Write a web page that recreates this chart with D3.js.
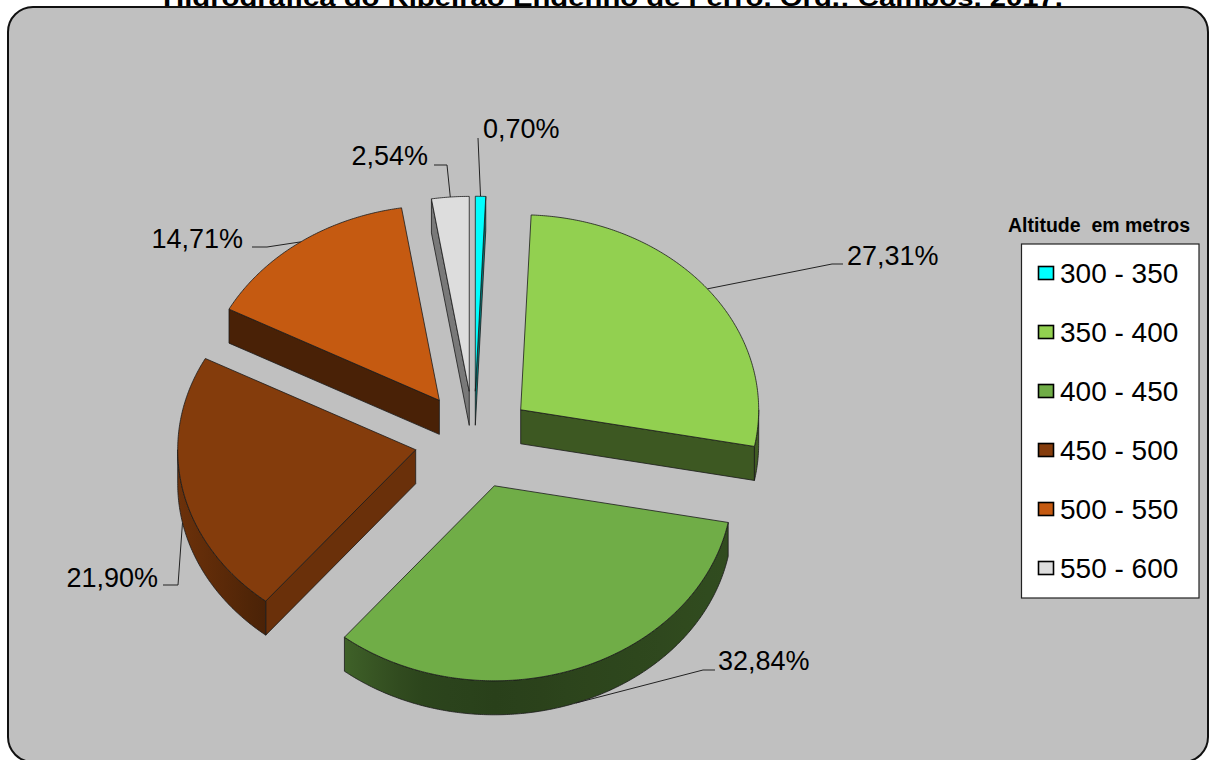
<!DOCTYPE html>
<html>
<head>
<meta charset="utf-8">
<script src="https://cdn.jsdelivr.net/npm/d3@7"></script>
<style>
  body { margin: 0; background: #fff; }
  svg { display: block; }
  text { font-family: "Liberation Sans", Arial, sans-serif; fill: #000; }
</style>
</head>
<body>
<svg id="chart" width="1213" height="760"></svg>
<script>
// Altitude classes (metres) and their share of the basin area (%)
const classes = ["300 - 350", "350 - 400", "400 - 450", "450 - 500", "500 - 550", "550 - 600"];
const shares = [0.70, 27.31, 32.84, 21.90, 14.71, 2.54];
const colors = ["#00FFFF", "#92D050", "#70AD47", "#843C0C", "#C55A11", "#DDDDDD"];
const legendTitle = "Altitude  em metros";
const title = "Hidrográfica do Ribeirão Engenho de Ferro. Org.: Campos, 2017.";

const fmt = v => v.toFixed(2).replace(".", ",") + "%";

const svg = d3.select("#chart");
const defs = svg.append("defs");

// Title (sits above the plot frame; the frame overlaps its lower part)
svg.append("text")
  .attr("x", 613).attr("y", 6)
  .attr("text-anchor", "middle")
  .attr("font-weight", "bold")
  .attr("font-size", 24)
  .attr("textLength", 900)
  .attr("lengthAdjust", "spacingAndGlyphs")
  .text(title);

// Chart frame
svg.append("rect")
  .attr("x", 8).attr("y", 7)
  .attr("width", 1200).attr("height", 755)
  .attr("rx", 25).attr("ry", 25)
  .attr("fill", "#C0C0C0")
  .attr("stroke", "#111").attr("stroke-width", 2);

// ---- 3D exploded pie ----
const cx = 474, cy = 440;     // pie centre
const rx = 238, ry = 195;     // projected radii of the top face
const depth = 34;             // slab thickness
const explode = 0.25;         // explosion as a fraction of the radius

const data = classes.map((c, i) => ({ cls: c, v: shares[i], color: colors[i], i }));
const pie = d3.pie().sort(null).value(d => d.v).startAngle(0).endAngle(2 * Math.PI);
const slices = pie(data);

const proj = (tip, a, dz = 0) => [tip[0] + rx * Math.sin(a), tip[1] - ry * Math.cos(a) + dz];
const sample = (a0, a1) => {
  const n = Math.max(2, Math.ceil((a1 - a0) / (Math.PI / 360)));
  return d3.range(n + 1).map(k => a0 + (a1 - a0) * k / n);
};
const line = d3.line();
const closed = pts => line(pts) + "Z";

// shading of side walls
const arcShade = d3.scaleLinear().domain([-1, -0.63, -0.34, 0, 1]).range([0.82, 0.56, 0.40, 0.37, 0.44]);
const radialShade = d3.scaleLinear()
  .domain([90, 129, 191, 208, 261, 270]).range([0.48, 0.80, 0.42, 0.37, 0.55, 0.55]).clamp(true);
const shade = (col, k) => { const c = d3.rgb(col); return d3.rgb(c.r * k, c.g * k, c.b * k).formatHex(); };

slices.forEach(s => {
  const m = (s.startAngle + s.endAngle) / 2;
  s.mid = m;
  s.tip = [cx + explode * rx * Math.sin(m), cy - explode * ry * Math.cos(m)];
});

const stroke = "#1a1a1a", sw = 0.8;
const pieG = svg.append("g");

slices.slice().sort((a, b) => a.tip[1] - b.tip[1]).forEach(s => {
  const g = pieG.append("g");
  const { tip, startAngle: a0, endAngle: a1 } = s;
  const col = s.data.color;
  const tipB = [tip[0], tip[1] + depth];

  // radial walls
  const walls = [
    { a: a0, n: a0 - Math.PI / 2 },
    { a: a1, n: a1 + Math.PI / 2 }
  ];
  walls.forEach(w => {
    if (Math.cos(w.n) < -1e-6) {
      let deg = (w.n * 180 / Math.PI) % 360; if (deg < 0) deg += 360;
      g.append("path")
        .attr("d", closed([tip, proj(tip, w.a), proj(tip, w.a, depth), tipB]))
        .attr("fill", shade(col, radialShade(deg)))
        .attr("stroke", stroke).attr("stroke-width", sw).attr("stroke-linejoin", "round");
    }
  });

  // outer curved wall (front half only)
  const lo = Math.max(a0, Math.PI / 2), hi = Math.min(a1, 3 * Math.PI / 2);
  if (hi > lo) {
    const id = "side" + s.data.i;
    const gr = defs.append("linearGradient").attr("id", id)
      .attr("gradientUnits", "userSpaceOnUse")
      .attr("x1", tip[0] - rx).attr("x2", tip[0] + rx).attr("y1", 0).attr("y2", 0);
    d3.range(-1, 1.001, 0.1).forEach(v => {
      gr.append("stop").attr("offset", (v + 1) / 2).attr("stop-color", shade(col, arcShade(v)));
    });
    const angs = sample(lo, hi);
    const pts = angs.map(a => proj(tip, a)).concat(angs.slice().reverse().map(a => proj(tip, a, depth)));
    g.append("path")
      .attr("d", closed(pts))
      .attr("fill", `url(#${id})`)
      .attr("stroke", stroke).attr("stroke-width", sw).attr("stroke-linejoin", "round");
  }

  // top face
  const top = [tip].concat(sample(a0, a1).map(a => proj(tip, a)));
  g.append("path")
    .attr("d", closed(top))
    .attr("fill", col)
    .attr("stroke", stroke).attr("stroke-width", sw).attr("stroke-linejoin", "round");
});

// ---- data labels with leader lines ----
const labelLayout = [
  { bend: [[478, 138]], x: 483, y: 138, anchor: "start" },
  { bend: [[832, 264], [843, 264]], x: 847, y: 265, anchor: "start" },
  { bend: [[703, 670], [715, 670]], x: 718, y: 670, anchor: "start" },
  { bend: [[178, 585], [163, 585]], x: 158, y: 587, anchor: "end" },
  { bend: [[267, 247], [252, 247]], x: 243, y: 248, anchor: "end" },
  { bend: [[447, 165], [434, 165]], x: 428, y: 165, anchor: "end" }
];

const labG = svg.append("g");
slices.forEach(s => {
  const L = labelLayout[s.data.i];
  const front = Math.cos(s.mid) < 0;
  const anchorPt = proj(s.tip, s.mid, front ? depth : 0);
  labG.append("path")
    .attr("d", line([anchorPt].concat(L.bend)))
    .attr("fill", "none").attr("stroke", "#222").attr("stroke-width", 1);
  labG.append("text")
    .attr("x", L.x).attr("y", L.y)
    .attr("text-anchor", L.anchor)
    .attr("font-size", 27)
    .text(fmt(s.data.v));
});

// ---- legend ----
const lg = svg.append("g");
lg.append("text")
  .attr("x", 1008).attr("y", 232)
  .attr("font-weight", "bold").attr("font-size", 19.5)
  .style("white-space", "pre")
  .text(legendTitle);
lg.append("rect")
  .attr("x", 1021.5).attr("y", 244).attr("width", 177.5).attr("height", 354)
  .attr("fill", "#fff").attr("stroke", "#222").attr("stroke-width", 1.2);

const rowY = d3.scalePoint().domain(classes).range([273, 568]);
classes.forEach((c, i) => {
  const y = rowY(c);
  lg.append("rect")
    .attr("x", 1038.5).attr("y", y - 6.5).attr("width", 15).attr("height", 13)
    .attr("fill", colors[i]).attr("stroke", "#000").attr("stroke-width", 1.6);
  lg.append("text")
    .attr("x", 1060).attr("y", y + 10)
    .attr("font-size", 28)
    .text(c);
});
</script>
</body>
</html>
